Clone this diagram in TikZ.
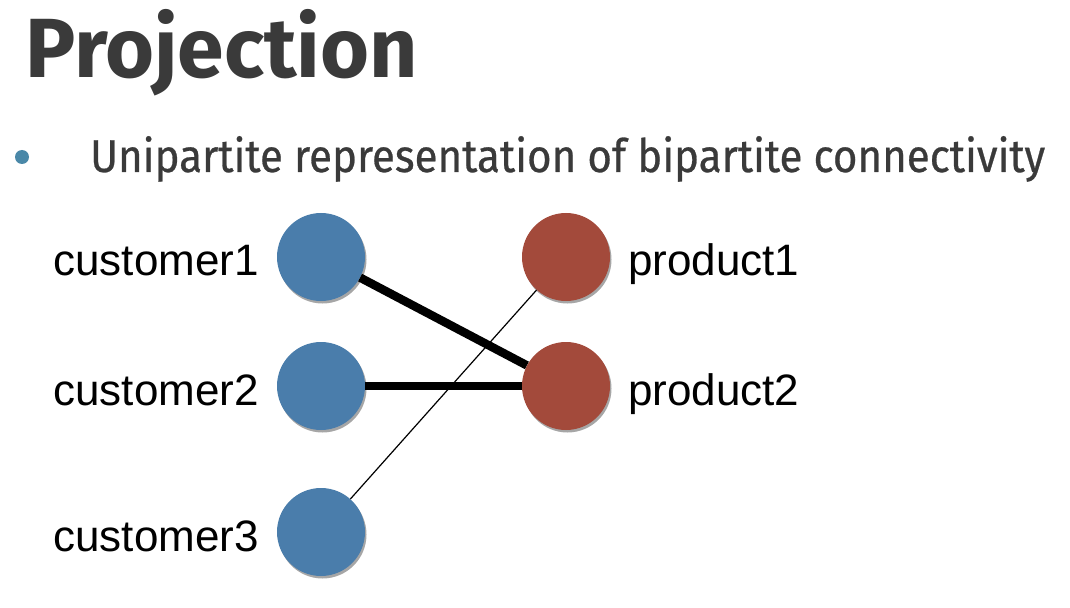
\documentclass[tikz,border=0pt]{standalone}
\usepackage{fontspec}
\setmainfont{Liberation Sans}
\newfontfamily\titlefont{Fira Sans}
\newfontfamily\subfont[FakeBold=0.6]{Fira Sans}
\usetikzlibrary{shadows}
\definecolor{titlegray}{HTML}{3A3A3A}
\definecolor{custblue}{HTML}{4A7DAB}
\definecolor{prodred}{HTML}{A34A3B}
\definecolor{bullteal}{HTML}{4A88A8}
\tikzset{
  custnode/.style={circle, fill=custblue, minimum size=88bp, inner sep=0pt,
    drop shadow={shadow xshift=1.5bp, shadow yshift=-2.5bp, opacity=0.35, fill=black}},
  prodnode/.style={circle, fill=prodred, minimum size=88bp, inner sep=0pt,
    drop shadow={shadow xshift=1.5bp, shadow yshift=-2.5bp, opacity=0.35, fill=black}},
  lbl/.style={font=\fontsize{44bp}{50bp}\selectfont, text=black, inner sep=0pt},
  heavy/.style={line width=8.5bp, black},
  light/.style={line width=1.2bp, black},
}
\begin{document}
\begin{tikzpicture}[x=1bp, y=-1bp]
\useasboundingbox (0,0) rectangle (1070,608);
\node[anchor=base west, inner sep=0pt, text=titlegray, font=\titlefont\bfseries\fontsize{84bp}{90bp}\selectfont] (title) at (25,78) {Projection};
\node[circle, fill=bullteal, minimum size=14bp, inner sep=0pt] (bullet) at (22,157) {};
\node[anchor=base west, inner sep=0pt, text=titlegray, font=\subfont\fontsize{46bp}{52bp}\selectfont] (sub) at (90,172) {\scalebox{0.915}[1]{Unipartite representation of bipartite connectivity}};
\node[custnode] (c1) at (321,257) {};
\node[custnode] (c2) at (321,386) {};
\node[custnode] (c3) at (321,532) {};
\node[prodnode] (p1) at (566,257) {};
\node[prodnode] (p2) at (566,386) {};
\draw[heavy] (c1) -- (p2);
\draw[heavy] (c2) -- (p2);
\draw[light] (c3) -- (p1);
\node[lbl, anchor=base east] (l1) at (259,276) {customer1};
\node[lbl, anchor=base east] (l2) at (259,405) {customer2};
\node[lbl, anchor=base east] (l3) at (259,551) {customer3};
\node[lbl, anchor=base west] (l4) at (628,276) {product1};
\node[lbl, anchor=base west] (l5) at (628,405) {product2};
\end{tikzpicture}
\end{document}
